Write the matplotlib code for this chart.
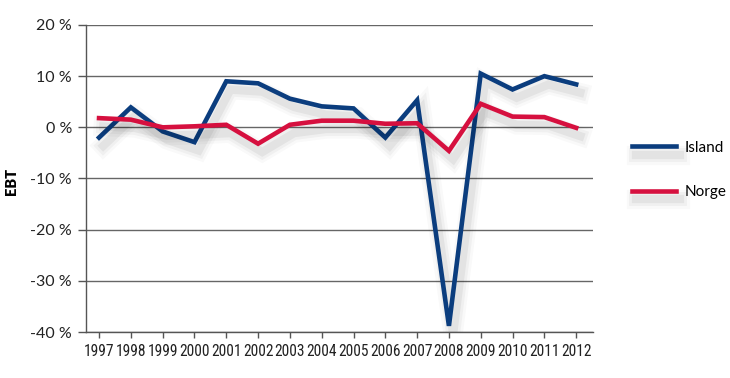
import matplotlib
matplotlib.use("Agg")
import matplotlib.pyplot as plt
import matplotlib.patheffects as pe
from matplotlib import font_manager

years = list(range(1997, 2013))
island = [-2.0, 3.9, -0.8, -2.9, 9.0, 8.6, 5.6, 4.1, 3.7, -2.0, 5.3, -38.8, 10.5, 7.4, 10.0, 8.4]
norge = [1.8, 1.5, 0.0, 0.2, 0.5, -3.2, 0.5, 1.3, 1.3, 0.7, 0.8, -4.6, 4.6, 2.1, 2.0, -0.1]
y_ticks = [20, 10, 0, -10, -20, -30, -40]
y_labels = ["20 %", "10 %", "0 %", "-10 %", "-20 %", "-30 %", "-40 %"]
series_names = ["Island", "Norge"]
colors = ["#0b3d7e", "#d6103f"]

avail = sorted({f.name for f in font_manager.fontManager.ttflist})
narrow = None
for cand in ["Liberation Sans Narrow", "Roboto Condensed", "Open Sans Condensed",
             "DejaVu Sans Condensed", "Noto Sans Condensed"]:
    if cand in avail:
        narrow = cand
        break
if narrow is None:
    for n in avail:
        if "Narrow" in n or "Condensed" in n:
            narrow = n
            break
xfont_size = 11.2
if narrow is None:
    narrow = "Roboto"
    xfont_size = 9
main_font = "Lato"

fig = plt.figure(figsize=(7.3, 3.78), dpi=100)
ax = fig.add_axes([86/730, 1 - 332/378, (592.7-86)/730, (332-25)/378])

def shadow():
    effs = []
    for w, a in [(14, 0.025), (10, 0.035), (6, 0.05)]:
        effs.append(pe.SimpleLineShadow(offset=(3, -6), shadow_color="black", alpha=a, linewidth=w))
    effs.append(pe.Normal())
    return effs

for vals, name, c in zip([island, norge], series_names, colors):
    ax.plot(years, vals, color=c, lw=3.3, solid_joinstyle="miter", label=name,
            path_effects=shadow(), zorder=3)

ax.set_xlim(1996.59, 2012.52)
ax.set_ylim(-40, 20)
ax.set_yticks(y_ticks)
ax.set_yticklabels(y_labels, fontsize=11.5, fontfamily=main_font, color="#222222")
ax.set_xticks(years)
ax.set_xticklabels([str(y) for y in years], fontsize=xfont_size, fontfamily=narrow, color="#222222")
ax.tick_params(axis="y", length=6, width=1, color="#555555", pad=4)
ax.tick_params(axis="x", length=4, width=1, color="#555555", pad=5)
for y in y_ticks:
    ax.axhline(y, color="#666666", lw=1, zorder=1)
for s in ["top", "right"]:
    ax.spines[s].set_visible(False)
for s in ["left", "bottom"]:
    ax.spines[s].set_color("#555555")
    ax.spines[s].set_linewidth(1)

fig.text(5/730, 1 - 181/378, "EBT", rotation=90, fontsize=10.5, fontweight="heavy",
         fontfamily=main_font, ha="left", va="center")

leg = ax.legend(loc="upper left", bbox_to_anchor=(618/730, 1 - 127/378), bbox_transform=fig.transFigure,
                frameon=False, handlelength=2.9, labelspacing=2.0, handletextpad=0.55,
                prop={"family": main_font, "size": 11})
for line in leg.get_lines():
    line.set_linewidth(3.3)
    line.set_path_effects(shadow())

fig.savefig("out.png", dpi=100)
